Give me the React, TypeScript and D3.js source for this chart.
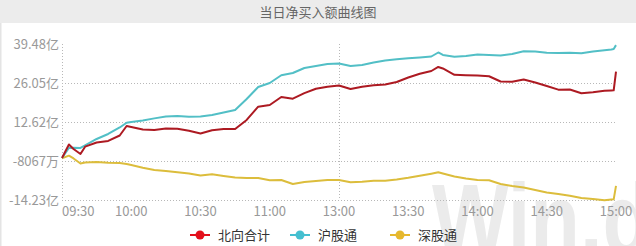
import React from "react";
import * as d3 from "d3";

const times = ["09:30","09:33","09:35","09:38","09:40","09:45","09:50","09:55","09:58","10:00","10:05","10:10","10:15","10:20","10:25","10:30","10:35","10:40","10:45","10:50","10:55","11:00","11:05","11:10","11:15","11:20","11:25","11:30","13:05","13:10","13:15","13:20","13:25","13:30","13:35","13:40","13:43","13:45","13:50","13:55","14:00","14:05","14:10","14:15","14:20","14:25","14:30","14:35","14:40","14:45","14:50","14:55","14:58","14:59","15:00"];

const northTotal = [0.34,5.0,3.44,1.72,4.23,5.68,6.20,8.09,11.36,11.02,10.12,9.98,10.50,10.43,9.74,8.78,9.88,10.33,10.33,13.43,18.00,18.59,21.34,20.76,22.65,24.17,24.89,25.30,24.10,24.89,25.40,25.65,26.51,28.06,29.33,30.29,31.67,31.15,28.98,28.81,28.71,28.47,26.68,26.61,27.37,26.33,25.13,23.86,23.92,22.65,22.99,23.51,23.61,23.65,30.05];

const shConnect = [0.34,3.79,3.86,3.79,4.65,6.88,8.61,10.84,12.46,12.74,13.25,13.98,14.63,14.80,14.56,14.63,15.15,15.97,16.87,20.65,24.78,26.16,28.81,29.60,31.33,32.01,32.70,32.87,32.01,32.36,33.22,33.91,34.32,34.66,34.94,35.28,36.66,35.80,35.22,35.46,35.97,35.80,35.59,36.14,37.07,37.01,36.59,36.49,36.56,36.39,37.01,37.42,37.69,37.87,39.20];

const szConnect = [0.24,1.14,0.17,-1.55,-1.20,-1.03,-1.31,-1.38,-1.72,-2.07,-2.99,-3.79,-4.13,-4.58,-4.99,-5.68,-5.27,-5.85,-6.37,-6.54,-6.54,-7.33,-7.23,-8.61,-7.92,-7.57,-7.23,-7.23,-8.02,-7.81,-7.50,-7.47,-7.06,-6.47,-5.78,-5.06,-4.58,-4.99,-6.06,-6.71,-7.23,-7.33,-8.61,-9.29,-9.81,-10.67,-11.53,-12.05,-12.67,-13.43,-13.77,-14.20,-13.94,-13.90,-9.29];

const yTickValues = [-14.23, -0.8067, 12.62, 26.05, 39.48];
const yTickLabels = ["-14.23亿", "-8067万", "12.62亿", "26.05亿", "39.48亿"];
const xTickLabels = ["09:30","10:00","10:30","11:00","13:00","13:30","14:00","14:30","15:00"];

const seriesNames = ["北向合计", "沪股通", "深股通"];
const lineColors = ["#ad1a22", "#52bfc6", "#dcbd3c"];
const legendColors = ["#e3101c", "#45bfd0", "#e6b82e"];

const toMinute = (t: string) => {
  const [h, m] = t.split(":").map(Number);
  const v = h * 60 + m;
  return v < 12 * 60 ? v - 570 : v - 780 + 120;
};

const FONT = "'Noto Sans CJK SC', 'Noto Sans', sans-serif";

export default function App() {
  const W = 636, H = 246;
  const x = d3.scaleLinear().domain([0, 240]).range([62, 616]);
  const y = d3.scaleLinear().domain([-14.23, 39.48]).range([200.3, 44.3]);
  const line = d3
    .line<number>()
    .x((_, i) => x(toMinute(times[i])))
    .y((d) => y(d));
  const all = [northTotal, shConnect, szConnect];
  const legendX = [200, 300, 400];

  return (
    <svg width={W} height={H} style={{ position: "absolute", left: 0, top: 0, display: "block", background: "#fff" }}>
      <rect x={0} y={0} width={W} height={23} fill="#ececec" />
      <rect x={0} y={23} width={1.5} height={H - 23} fill="#e4e4e4" />
      <text x={318} y={16.5} textAnchor="middle" fontFamily={FONT} fontSize={13} fill="#666">当日净买入额曲线图</text>

      <text x={432} y={254} fontFamily="'Liberation Sans', Arial, sans-serif" fontWeight="bold" fontSize={100} fill="#ebebeb" textLength={220} lengthAdjust="spacingAndGlyphs">Win.d</text>

      {yTickValues.slice(0, 4).map((v, i) => (
        <line key={"g" + i} x1={62} x2={616} y1={Math.round(y(v)) + 0.5} y2={Math.round(y(v)) + 0.5} stroke="#b8b8b8" strokeDasharray="1,2" />
      ))}
      {[0, 120].map((m, i) => (
        <line key={"v" + i} x1={Math.round(x(m)) + 0.5} x2={Math.round(x(m)) + 0.5} y1={44} y2={200} stroke="#b8b8b8" strokeDasharray="1,2" />
      ))}

      {yTickValues.map((v, i) => (
        <text key={"yl" + i} x={59} y={y(v) + 4.5} textAnchor="end" fontFamily={FONT} fontSize={13} fill="#999">{yTickLabels[i]}</text>
      ))}
      {xTickLabels.map((t, i) => (
        <text key={"xl" + i} x={i === 0 ? 62 : x(toMinute(t))} y={216} textAnchor={i === 0 ? "start" : "middle"} fontFamily={FONT} fontSize={13} fill="#999">{t}</text>
      ))}

      {[2, 1, 0].map((k) => (
        <path key={"s" + k} d={line(all[k]) || ""} fill="none" stroke={lineColors[k]} strokeWidth={2} strokeLinejoin="round" />
      ))}

      {seriesNames.map((n, i) => (
        <g key={"lg" + i}>
          <line x1={legendX[i] - 10} x2={legendX[i] + 10} y1={235} y2={235} stroke={legendColors[i]} strokeWidth={2} />
          <circle cx={legendX[i]} cy={235} r={4.5} fill={legendColors[i]} />
          <text x={legendX[i] + 18} y={240} fontFamily={FONT} fontSize={13} fill="#333">{n}</text>
        </g>
      ))}
    </svg>
  );
}
